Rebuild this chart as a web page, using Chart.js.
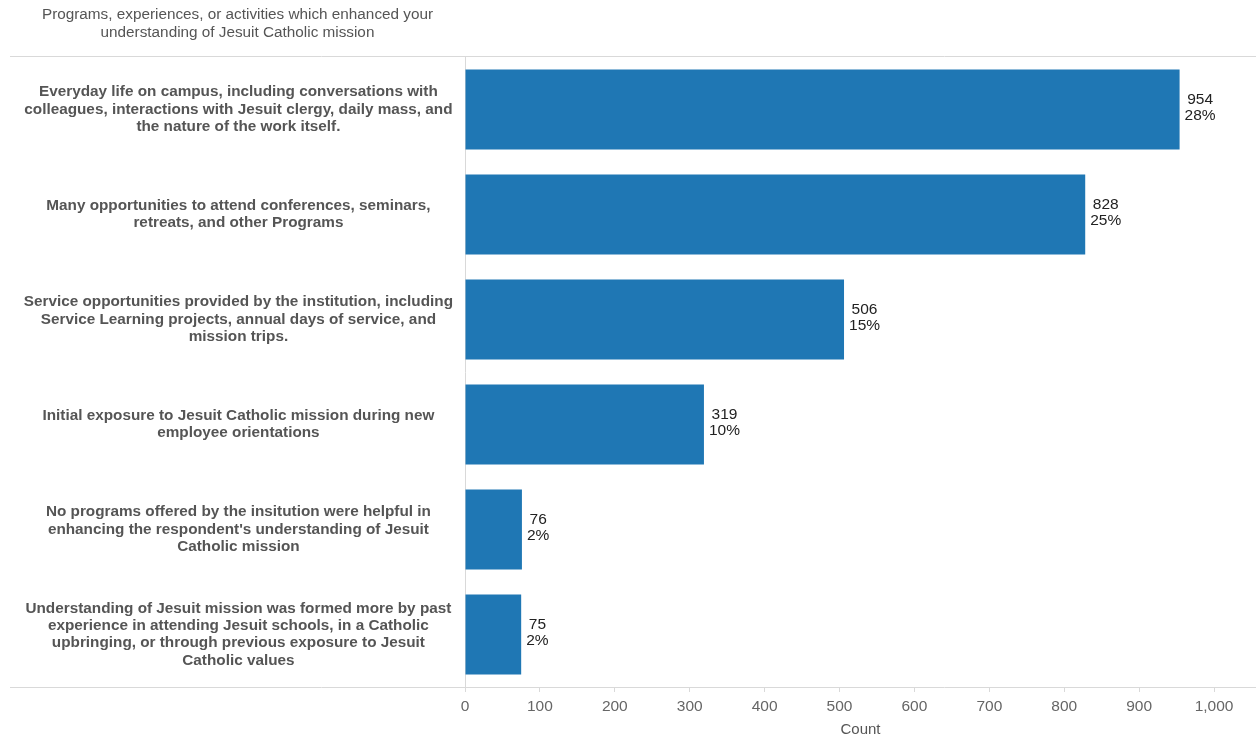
<!DOCTYPE html>
<html>
<head>
<meta charset="utf-8">
<script src="https://cdn.jsdelivr.net/npm/chart.js@4.4.1/dist/chart.umd.min.js"></script>
<style>
    html, body { margin: 0; padding: 0; background: #fff; }
    #wrap { position: relative; width: 1256px; height: 741px; }
    #title {
        position: absolute; left: 10px; top: 5px; width: 455px;
        text-align: center; font: 15.3px "Liberation Sans", Arial, sans-serif;
        color: #555; line-height: 18px;
    }
</style>
</head>
<body>
<div id="wrap">
    <canvas id="countChart" width="1256" height="741"></canvas>
    <div id="title">Programs, experiences, or activities which enhanced your<br>understanding of Jesuit Catholic mission</div>
</div>
<script>
var categories = [
    ["Everyday life on campus, including conversations with", "colleagues, interactions with Jesuit clergy, daily mass, and", "the nature of the work itself."],
    ["Many opportunities to attend conferences, seminars,", "retreats, and other Programs"],
    ["Service opportunities provided by the institution, including", "Service Learning projects, annual days of service, and", "mission trips."],
    ["Initial exposure to Jesuit Catholic mission during new", "employee orientations"],
    ["No programs offered by the insitution were helpful in", "enhancing the respondent's understanding of Jesuit", "Catholic mission"],
    ["Understanding of Jesuit mission was formed more by past", "experience in attending Jesuit schools, in a Catholic", "upbringing, or through previous exposure to Jesuit", "Catholic values"]
];
var counts = [954, 828, 506, 319, 76, 75];
var percents = ["28%", "25%", "15%", "10%", "2%", "2%"];

var fontFamily = '"Liberation Sans", Arial, sans-serif';
var lineColor = "#d9d9d9";
var barColor = "#1f77b4";

// value + percent next to each bar, two centered lines
var barLabels = {
    id: 'barLabels',
    afterDatasetsDraw: function(chart) {
        var ctx = chart.ctx;
        var meta = chart.getDatasetMeta(0);
        ctx.save();
        ctx.font = '15.5px ' + fontFamily;
        ctx.fillStyle = "#222";
        ctx.textAlign = "center";
        ctx.textBaseline = "middle";
        meta.data.forEach(function(bar, i) {
            var top = String(counts[i]);
            var bottom = percents[i];
            var w = Math.max(ctx.measureText(top).width, ctx.measureText(bottom).width);
            var cx = bar.x + 5 + w / 2;
            ctx.fillText(top, cx, bar.y - 10);
            ctx.fillText(bottom, cx, bar.y + 6);
        });
        ctx.restore();
    }
};

// long dividers above and below the plot, running under the label column too
var dividers = {
    id: 'dividers',
    afterDraw: function(chart) {
        var ctx = chart.ctx;
        var area = chart.chartArea;
        ctx.save();
        ctx.strokeStyle = lineColor;
        ctx.lineWidth = 1;
        ctx.beginPath();
        ctx.moveTo(10, area.top - 0.5);
        ctx.lineTo(1256, area.top - 0.5);
        ctx.moveTo(10, area.bottom + 0.5);
        ctx.lineTo(1256, area.bottom + 0.5);
        ctx.stroke();
        ctx.restore();
    }
};

var ctx = document.getElementById("countChart").getContext("2d");
var myChart = new Chart(ctx, {
    type: "bar",
    data: {
        labels: categories,
        datasets: [{
            label: "Count",
            data: counts,
            backgroundColor: barColor,
            borderWidth: 0,
            categoryPercentage: 0.762,
            barPercentage: 1,
        }],
    },
    options: {
        indexAxis: "y",
        responsive: false,
        animation: false,
        layout: {
            padding: { top: 57, left: 10, right: 0, bottom: 0 },
        },
        plugins: {
            legend: { display: false },
            tooltip: { enabled: false },
        },
        scales: {
            x: {
                min: 0,
                max: 1056,
                afterFit: function(scale) { scale.height = 54; },
                ticks: {
                    stepSize: 100,
                    includeBounds: false,
                    color: "#666",
                    padding: 5,
                    font: { family: fontFamily, size: 15.5 },
                },
                grid: {
                    drawOnChartArea: false,
                    drawTicks: true,
                    tickLength: 5,
                    color: lineColor,
                },
                border: { display: false },
                title: {
                    display: true,
                    text: "Count",
                    color: "#555",
                    padding: { top: 7, bottom: 2 },
                    font: { family: fontFamily, size: 15 },
                },
            },
            y: {
                afterFit: function(scale) { scale.width = 455; },
                ticks: {
                    crossAlign: "center",
                    color: "#555",
                    padding: 12,
                    font: { family: fontFamily, size: 15.3, weight: "bold", lineHeight: 1.14 },
                },
                grid: { display: false, drawTicks: false },
                border: { display: true, color: lineColor },
            },
        },
    },
    plugins: [barLabels, dividers],
});
</script>
</body>
</html>
